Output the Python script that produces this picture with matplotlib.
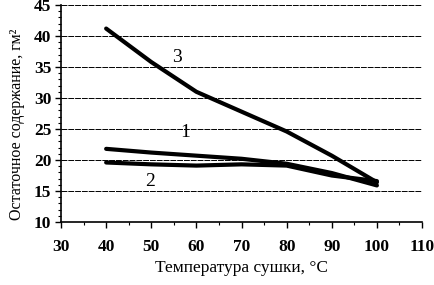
import matplotlib
matplotlib.use("Agg")
import matplotlib.pyplot as plt
from matplotlib.ticker import MultipleLocator

temps = [40, 50, 60, 70, 80, 90, 100]
curve1 = [21.8, 21.2, 20.7, 20.2, 19.4, 17.9, 15.9]
curve2 = [19.6, 19.3, 19.1, 19.3, 19.1, 17.5, 16.6]
curve3 = [41.2, 35.8, 31.0, 27.8, 24.6, 20.7, 16.4]
xticks = [30, 40, 50, 60, 70, 80, 90, 100, 110]
yticks = [10, 15, 20, 25, 30, 35, 40, 45]

plt.rcParams['font.family'] = ['Liberation Serif', 'DejaVu Serif']

fig = plt.figure(figsize=(4.34, 2.85), dpi=100)
ax = fig.add_axes([0.1406, 0.221, 0.8318, 0.7615])

for ys in (curve1, curve2, curve3):
    ax.plot(temps, ys, color='black', lw=3.0, solid_capstyle='round',
            solid_joinstyle='round')

ax.set_xlim(30, 110)
ax.set_ylim(10, 45)
ax.set_xticks(xticks)
ax.set_yticks(yticks)
ax.xaxis.set_minor_locator(MultipleLocator(5))
ax.yaxis.set_minor_locator(MultipleLocator(1))
ax.grid(axis='y', which='major', color='black', lw=0.7, ls=(0, (6, 1)))
ax.set_axisbelow(True)
for s in ('top', 'right'):
    ax.spines[s].set_visible(False)
ax.spines['left'].set_linewidth(1.2)
ax.spines['bottom'].set_linewidth(1.2)
ax.tick_params(axis='both', which='major', length=4, width=1, labelsize=12.5)
ax.tick_params(axis='x', which='major', pad=8)
ax.tick_params(axis='y', which='major', pad=3)
ax.tick_params(axis='both', which='minor', length=2, width=0.8)
for lab in ax.get_xticklabels() + ax.get_yticklabels():
    lab.set_fontweight('bold')

ax.set_xlabel('Температура сушки, °C', fontsize=12.5, labelpad=4)
ax.set_ylabel('Остаточное содержание, гм²', fontsize=11.5, labelpad=2)
ax.yaxis.set_label_coords(-0.1, 0.45)

ax.text(57.5, 24.4, '1', fontsize=14, ha='center', va='center')
ax.text(49.7, 16.6, '2', fontsize=14, ha='center', va='center')
ax.text(55.7, 36.5, '3', fontsize=14, ha='center', va='center')

fig.savefig('out.png', dpi=100)
